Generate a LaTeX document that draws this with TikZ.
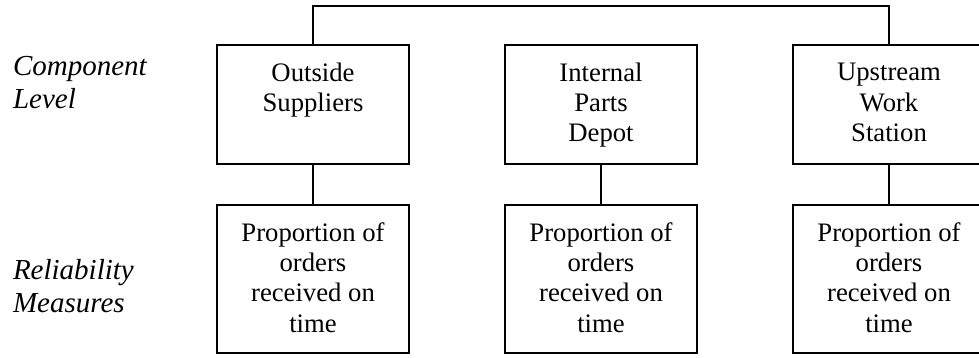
\documentclass[tikz,border=0pt]{standalone}
\usepackage{fontspec}
\setmainfont{Liberation Serif}
\begin{document}
\begin{tikzpicture}[x=1pt,y=-1pt,
  line width=2pt,
  box/.style={draw, minimum width=192pt, inner sep=0pt},
  topbox/.style={box, minimum height=119.5pt},
  measbox/.style={box, minimum height=147.5pt},
  boxtext/.style={anchor=north, inner sep=0pt, align=center,
    font=\fontsize{26.7}{30.3}\selectfont},
  rowlabel/.style={anchor=north west, inner sep=0pt, align=left,
    font=\fontsize{29}{33.3}\selectfont\itshape}]
\useasboundingbox (0,0) rectangle (979,357);
\clip (0,0) rectangle (979,357);

% component boxes
\node[topbox] (t1) at (313,104.25) {};
\node[topbox] (t2) at (601,104.25) {};
\node[topbox] (t3) at (889,104.25) {};
\node[boxtext] (tt1) at ([yshift=-18.3pt]t1.north) {Outside\\Suppliers};
\node[boxtext] (tt2) at ([yshift=-18.3pt]t2.north) {Internal\\Parts\\Depot};
\node[boxtext] (tt3) at ([yshift=-18.8pt]t3.north) {Upstream\\Work\\Station};

% reliability measure boxes
\node[measbox] (m1) at (313,278.75) {};
\node[measbox] (m2) at (601,278.75) {};
\node[measbox] (m3) at (889,278.75) {};
\node[boxtext] (mt1) at ([yshift=-17.5pt]m1.north) {Proportion of\\orders\\received on\\time};
\node[boxtext] (mt2) at ([yshift=-17.5pt]m2.north) {Proportion of\\orders\\received on\\time};
\node[boxtext] (mt3) at ([yshift=-17.5pt]m3.north) {Proportion of\\orders\\received on\\time};

% row labels
\node[rowlabel] (lc) at (12,55.4) {Component\\Level};
\node[rowlabel] (lr) at (12,258.2) {Reliability\\Measures};

% connectors
\coordinate (top) at (0,5.7);
\draw (t1.north) -- (t1.north |- top) -| (t3.north);
\draw (t1.south) -- (m1.north);
\draw (t2.south) -- (m2.north);
\draw (t3.south) -- (m3.north);
\end{tikzpicture}
\end{document}
